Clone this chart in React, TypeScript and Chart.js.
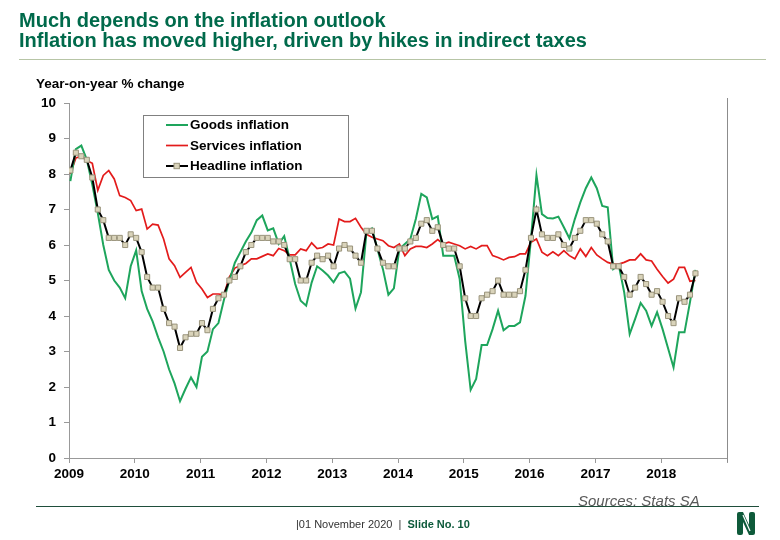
import React, { useEffect, useRef } from 'react';
import { Chart, registerables } from 'chart.js';

Chart.register(...registerables);

// ---- Data (monthly, Jan 2009 – Jul 2018) ----
const START_YEAR = 2009;
const MONTH_OFFSET = 0.25; // points plotted slightly into the month

const seriesLabels = ['Goods inflation', 'Services inflation', 'Headline inflation'];

const headline = [
  8.1, 8.6, 8.5, 8.4, 7.9, 7.0, 6.7, 6.2, 6.2, 6.2, 6.0, 6.3,
  6.2, 5.8, 5.1, 4.8, 4.8, 4.2, 3.8, 3.7, 3.1, 3.4, 3.5, 3.5,
  3.8, 3.6, 4.2, 4.5, 4.6, 5.0, 5.1, 5.4, 5.8, 6.0, 6.2, 6.2,
  6.2, 6.1, 6.1, 6.0, 5.6, 5.6, 5.0, 5.0, 5.5, 5.7, 5.6, 5.7,
  5.4, 5.9, 6.0, 5.9, 5.7, 5.5, 6.4, 6.4, 5.9, 5.5, 5.4, 5.4,
  5.9, 5.9, 6.1, 6.2, 6.6, 6.7, 6.4, 6.5, 6.0, 5.9, 5.9, 5.4,
  4.5, 4.0, 4.0, 4.5, 4.6, 4.7, 5.0, 4.6, 4.6, 4.6, 4.7, 5.3,
  6.2, 7.0, 6.3, 6.2, 6.2, 6.3, 6.0, 5.9, 6.2, 6.4, 6.7, 6.7,
  6.6, 6.3, 6.1, 5.4, 5.4, 5.1, 4.6, 4.8, 5.1, 4.9, 4.6, 4.7,
  4.4, 4.0, 3.8, 4.5, 4.4, 4.6, 5.2,
];

const goods = [
  7.8, 8.7, 8.8, 8.4, 7.7, 6.9, 6.0, 5.3, 5.0, 4.8, 4.5, 5.4,
  5.85, 4.7, 4.2, 3.85, 3.4, 3.0, 2.5, 2.1, 1.6, 1.95, 2.27, 2.0,
  2.85, 3.0, 3.63, 3.8, 4.45, 5.0, 5.5, 5.8, 6.1, 6.35, 6.7, 6.83,
  6.41, 6.47, 6.03, 6.25, 5.6, 4.9, 4.43, 4.29, 4.94, 5.4, 5.28, 5.14,
  4.95, 5.2, 5.25, 5.05, 4.21, 4.67, 6.36, 6.47, 5.89, 5.32, 4.6, 4.78,
  5.89, 6.03, 6.17, 6.73, 7.44, 7.34, 6.73, 6.81, 5.7, 5.7, 5.7, 5.04,
  3.3, 1.92, 2.23, 3.18, 3.18, 3.63, 4.15, 3.6, 3.72, 3.72, 3.82, 4.57,
  6.17, 7.97, 6.87, 6.76, 6.75, 6.8, 6.5, 6.19, 6.73, 7.2, 7.6, 7.9,
  7.6, 7.1, 7.06, 5.32, 5.44, 4.67, 3.49, 3.92, 4.37, 4.15, 3.72, 4.11,
  3.63, 3.09, 2.55, 3.54, 3.54, 4.39, 5.3,
];

const services = [
  8.0, 8.45, 8.5, 8.38, 8.3, 7.54, 7.96, 8.1, 7.86, 7.39, 7.34, 7.25,
  6.97, 7.01, 6.45, 6.59, 6.56, 6.17, 5.61, 5.42, 5.09, 5.23, 5.37, 4.95,
  4.76, 4.52, 4.62, 4.62, 4.6, 5.1, 5.35, 5.42, 5.48, 5.61, 5.61, 5.68,
  5.75, 5.7, 5.9, 5.84, 5.72, 5.72, 5.89, 5.84, 6.06, 5.9, 5.93, 6.03,
  6.0, 6.73, 6.66, 6.66, 6.75, 6.5, 6.3, 6.22, 6.17, 6.12, 5.98, 5.93,
  6.03, 5.7, 5.89, 5.96, 5.96, 5.93, 6.03, 6.15, 6.03, 6.08, 6.03, 5.98,
  5.89, 5.96, 5.89, 5.98, 5.98, 5.7, 5.65, 5.58, 5.65, 5.67, 5.75, 5.75,
  6.08, 6.17, 5.8, 5.7, 5.81, 5.7, 5.84, 5.7, 5.61, 5.89, 5.68, 5.93,
  5.72, 5.61, 5.51, 5.46, 5.46, 5.51, 5.58, 5.58, 5.75, 5.58, 5.55, 5.32,
  5.11, 4.93, 5.04, 5.37, 5.37, 4.98, 5.0,
];

const yearTicks = [2009, 2010, 2011, 2012, 2013, 2014, 2015, 2016, 2017, 2018];
const X_MIN = 2009;
const X_MAX = 2019;
const Y_MIN = 0;
const Y_MAX = 10;

const GREEN = '#1ea55c';
const RED = '#e31b1b';
const BLACK = '#000000';
const MARKER_FILL = '#d9d3ba';
const MARKER_BORDER = '#9a947c';

const toPoints = (arr: number[]) =>
  arr.map((v, i) => ({ x: START_YEAR + (i + MONTH_OFFSET) / 12, y: v }));

const FONT = "'Liberation Sans', Arial, sans-serif";

const legendPlugin = {
  id: 'boxLegend',
  afterDraw(chart: any) {
    const ctx = chart.ctx;
    const bx = 143, by = 115, bw = 205, bh = 62;
    ctx.save();
    ctx.fillStyle = '#ffffff';
    ctx.fillRect(bx, by, bw, bh);
    ctx.strokeStyle = '#808080';
    ctx.lineWidth = 1;
    ctx.strokeRect(bx + 0.5, by + 0.5, bw, bh);
    const order = [1, 2, 0]; // goods, services, headline (dataset indexes)
    order.forEach((dsIndex, row) => {
      const ds = chart.data.datasets[dsIndex];
      const cy = by + 10 + row * 20.5;
      ctx.strokeStyle = ds.borderColor;
      ctx.lineWidth = ds.borderWidth;
      ctx.beginPath();
      ctx.moveTo(166, cy);
      ctx.lineTo(188, cy);
      ctx.stroke();
      if (ds.pointRadius > 0) {
        ctx.fillStyle = ds.pointBackgroundColor;
        ctx.strokeStyle = ds.pointBorderColor;
        ctx.lineWidth = 1;
        ctx.fillRect(174, cy - 2.7, 5.4, 5.4);
        ctx.strokeRect(174, cy - 2.7, 5.4, 5.4);
      }
      ctx.fillStyle = '#000';
      ctx.font = `bold 13.5px ${FONT}`;
      ctx.textBaseline = 'middle';
      ctx.textAlign = 'left';
      ctx.fillText(ds.label, 190, cy + 0.5);
    });
    ctx.restore();
  },
};

const rightBorderPlugin = {
  id: 'rightBorder',
  afterDraw(chart: any) {
    const { ctx, chartArea } = chart;
    ctx.save();
    ctx.strokeStyle = '#8c8c8c';
    ctx.lineWidth = 1;
    ctx.beginPath();
    ctx.moveTo(Math.round(chartArea.right) + 0.5, chartArea.top - 5);
    ctx.lineTo(Math.round(chartArea.right) + 0.5, chartArea.bottom + 4);
    ctx.stroke();
    ctx.restore();
  },
};

function InflationChart() {
  const ref = useRef<HTMLCanvasElement | null>(null);
  useEffect(() => {
    if (!ref.current) return;
    const chart = new Chart(ref.current, {
      type: 'line',
      data: {
        datasets: [
          {
            label: seriesLabels[2],
            data: toPoints(headline),
            borderColor: BLACK,
            borderWidth: 2,
            pointStyle: 'rect',
            pointRadius: 3.6,
            pointBackgroundColor: MARKER_FILL,
            pointBorderColor: MARKER_BORDER,
            pointBorderWidth: 1,
            tension: 0,
          },
          {
            label: seriesLabels[0],
            data: toPoints(goods),
            borderColor: GREEN,
            borderWidth: 2,
            pointRadius: 0,
            tension: 0,
          },
          {
            label: seriesLabels[1],
            data: toPoints(services),
            borderColor: RED,
            borderWidth: 1.7,
            pointRadius: 0,
            tension: 0,
          },
        ],
      },
      options: {
        animation: false,
        responsive: false,
        maintainAspectRatio: false,
        events: [],
        layout: { padding: { top: 103, right: 53, bottom: 52, left: 0 } },
        plugins: {
          legend: { display: false },
          tooltip: { enabled: false },
        },
        scales: {
          x: {
            type: 'linear',
            min: X_MIN,
            max: X_MAX,
            afterBuildTicks: (scale: any) => {
              scale.ticks = [...yearTicks, X_MAX].map((v) => ({ value: v }));
            },
            afterFit: (scale: any) => {
              scale.height = 30;
            },
            ticks: {
              autoSkip: false,
              maxRotation: 0,
              padding: 3,
              color: '#000',
              font: { family: FONT, size: 13.5, weight: 'bold' },
              callback: (v: any) => (yearTicks.includes(Number(v)) ? String(v) : ''),
            },
            grid: { drawOnChartArea: false, drawTicks: true, tickLength: 5, color: '#999' },
            border: { display: true, color: '#999' },
          },
          y: {
            type: 'linear',
            min: Y_MIN,
            max: Y_MAX,
            afterFit: (scale: any) => {
              scale.width = 69;
            },
            ticks: {
              stepSize: 1,
              padding: 8,
              color: '#000',
              font: { family: FONT, size: 13.5, weight: 'bold' },
            },
            grid: { drawOnChartArea: false, drawTicks: true, tickLength: 5, color: '#999' },
            border: { display: true, color: '#999' },
          },
        },
      },
      plugins: [legendPlugin, rightBorderPlugin],
    } as any);
    return () => chart.destroy();
  }, []);
  return (
    <canvas
      ref={ref}
      width={780}
      height={540}
      style={{ position: 'absolute', left: 0, top: 0, width: 780, height: 540 }}
    />
  );
}

export default function App() {
  const narrow = "'Liberation Sans Narrow', 'Arial Narrow', 'Liberation Sans', Arial, sans-serif";
  return (
    <div
      style={{
        position: 'absolute',
        left: 0,
        top: 0,
        width: 780,
        height: 540,
        background: '#fff',
        overflow: 'hidden',
        fontFamily: FONT,
      }}
    >
      <InflationChart />
      <div
        style={{
          position: 'absolute',
          left: 19,
          top: 10,
          fontFamily: narrow,
          fontWeight: 'bold',
          fontSize: 20,
          lineHeight: '20px',
          color: '#006a4b',
          whiteSpace: 'nowrap',
        }}
      >
        <div>Much depends on the inflation outlook</div>
        <div>Inflation has moved higher, driven by hikes in indirect taxes</div>
      </div>
      <div
        style={{
          position: 'absolute',
          left: 19,
          top: 59,
          width: 747,
          height: 1,
          background: '#b7c5a6',
        }}
      />
      <div
        style={{
          position: 'absolute',
          left: 36,
          top: 76,
          fontWeight: 'bold',
          fontSize: 13.5,
          lineHeight: '16px',
          color: '#000',
          whiteSpace: 'nowrap',
        }}
      >
        Year-on-year % change
      </div>
      <div
        style={{
          position: 'absolute',
          left: 578,
          top: 492,
          fontFamily: narrow,
          fontStyle: 'italic',
          fontSize: 15,
          lineHeight: '17px',
          color: '#5a5a5a',
          whiteSpace: 'nowrap',
        }}
      >
        Sources: Stats SA
      </div>
      <div
        style={{
          position: 'absolute',
          left: 36,
          top: 506,
          width: 723,
          height: 1,
          background: '#1f4e3b',
        }}
      />
      <div
        style={{
          position: 'absolute',
          left: 296,
          top: 517,
          fontFamily: narrow,
          fontSize: 11,
          lineHeight: '14px',
          color: '#333',
          whiteSpace: 'pre',
        }}
      >
        {'|01 November 2020  |  '}
        <span style={{ fontWeight: 'bold', color: '#0d5a3b' }}>Slide No. 10</span>
      </div>
      <svg
        style={{ position: 'absolute', left: 735, top: 511 }}
        width={22}
        height={25}
        viewBox="0 0 22 25"
      >
        <path d="M2 3 Q2 1 4 1 L8 1 L14 14 L14 3 Q14 1 16 1 L18 1 Q20 1 20 3 L20 22 Q20 24 18 24 L14 24 L8 11 L8 22 Q8 24 6 24 L4 24 Q2 24 2 22 Z" fill="#0e5a3a" />
        <path d="M8 4 L15 20" stroke="#ffffff" strokeWidth={1.2} />
      </svg>
    </div>
  );
}
